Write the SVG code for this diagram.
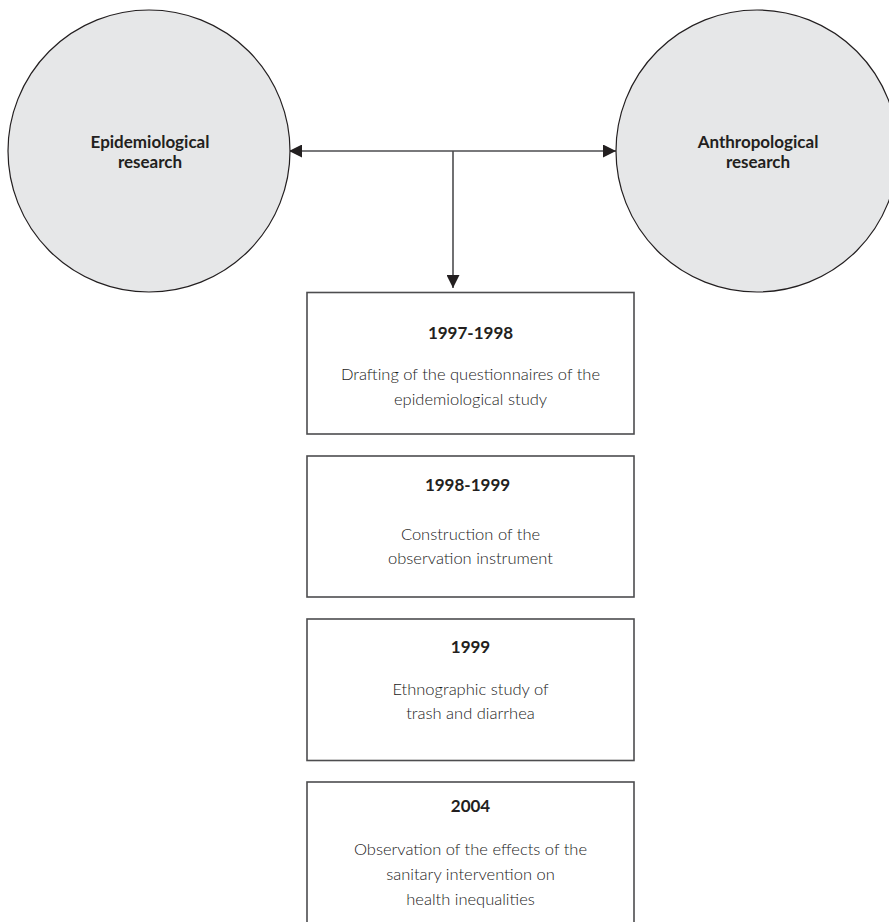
<svg xmlns="http://www.w3.org/2000/svg" width="889" height="922" viewBox="0 0 889 922">
<style>
.circ{fill:#e6e7e8;stroke:#231f20;stroke-width:1.2}
.box{fill:#fff;stroke:#4d4d4f;stroke-width:1.6}
.hd{font-family:Lato,"Liberation Sans",sans-serif;font-weight:700;font-size:17px;fill:#231f20;text-anchor:middle}
.tx{font-family:Lato,"Liberation Sans",sans-serif;font-weight:300;font-size:16.5px;fill:#1a1a1a;text-anchor:middle}
.ln{stroke:#4d4d4f;stroke-width:1.6;fill:none}
</style>
<defs>
<marker id="ah" markerWidth="13" markerHeight="13" viewBox="0 0 13 13" refX="13" refY="6.5" orient="auto" markerUnits="userSpaceOnUse">
<path d="M0,0 L13,6.5 L0,13 Z" fill="#231f20"/>
</marker>
</defs>
<rect width="889" height="922" fill="#fff"/>
<g id="connectors">
<line class="ln" x1="452" y1="151" x2="289" y2="151" marker-end="url(#ah)"/>
<line class="ln" x1="452" y1="151" x2="616" y2="151" marker-end="url(#ah)"/>
<line class="ln" x1="453" y1="151" x2="453" y2="288" marker-end="url(#ah)"/>
</g>
<g id="epidemiological">
<circle class="circ" cx="149" cy="151" r="141"/>
<text class="hd" x="150" y="148">Epidemiological</text>
<text class="hd" x="150" y="168">research</text>
</g>
<g id="anthropological">
<circle class="circ" cx="757" cy="151" r="141"/>
<text class="hd" x="758" y="148">Anthropological</text>
<text class="hd" x="758" y="168">research</text>
</g>
<g id="box1">
<rect class="box" x="307" y="292.5" width="327" height="141.5"/>
<text class="hd" x="470.5" y="339">1997-1998</text>
<text class="tx" x="470.5" y="380">Drafting of the questionnaires of the</text>
<text class="tx" x="470.5" y="405">epidemiological study</text>
</g>
<g id="box2">
<rect class="box" x="307" y="456" width="327" height="141"/>
<text class="hd" x="467.5" y="491">1998-1999</text>
<text class="tx" x="470.5" y="540">Construction of the</text>
<text class="tx" x="470.5" y="564">observation instrument</text>
</g>
<g id="box3">
<rect class="box" x="307" y="619" width="327" height="141.5"/>
<text class="hd" x="470.5" y="653">1999</text>
<text class="tx" x="470.5" y="695">Ethnographic study of</text>
<text class="tx" x="470.5" y="719">trash and diarrhea</text>
</g>
<g id="box4">
<rect class="box" x="307" y="782" width="327" height="145"/>
<text class="hd" x="470.5" y="812">2004</text>
<text class="tx" x="470.5" y="855">Observation of the effects of the</text>
<text class="tx" x="470.5" y="880">sanitary intervention on</text>
<text class="tx" x="470.5" y="905">health inequalities</text>
</g>
</svg>
